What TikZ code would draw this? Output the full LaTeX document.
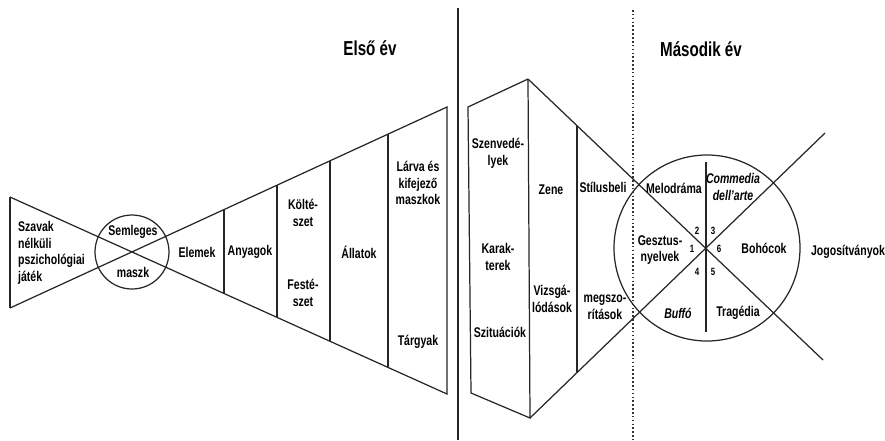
\documentclass[tikz,border=0pt]{standalone}
\usepackage{fontspec}
\setmainfont{Liberation Sans}[FakeStretch=0.75]
\usetikzlibrary{positioning}

\begin{document}
\begin{tikzpicture}[
    x=0.02cm, y=-0.02cm,
    lbl/.style={font=\fontsize{8}{9.5}\selectfont\bfseries, align=center, inner sep=1pt},
    lbll/.style={lbl, align=left},
    ital/.style={lbl, font=\fontsize{8}{9.5}\selectfont\bfseries\itshape},
    num/.style={font=\fontsize{6}{7}\selectfont\bfseries, inner sep=0.5pt},
    yeartitle/.style={font=\fontsize{11.5}{13}\selectfont\bfseries},
    outline/.style={draw, line width=0.7pt, black!85},
    sepline/.style={draw, line width=0.9pt, black!85},
    dotline/.style={draw, line width=0.9pt, black!80, dash pattern=on 0.9pt off 1.3pt}
  ]
    \useasboundingbox (0,0) rectangle (885,440);

    % first year
    \coordinate (ltop) at (10,197);
    \coordinate (lbot) at (10,308);
    \coordinate (apex) at (132,252);
    \coordinate (ctop) at (447,107);
    \coordinate (cbot) at (447,394);
    \path[outline] (ltop) -- (lbot);
    \path[outline] (ltop) -- (cbot) -- (ctop) -- (lbot);
    \path[outline] (apex) circle[radius=37];
    \foreach \x/\ya/\yb in {224/209.6/293.5, 277/185.2/317.4, 330/160.8/341.3, 388/134.1/367.4}
      \path[outline] (\x,\ya) -- (\x,\yb);

    \node[lbll, anchor=west] (szavak) at (16,253) {Szavak\\nélküli\\pszichológiai\\játék};
    \node[lbl] (semleges) at (133,232) {Semleges};
    \node[lbl] (maszk) at (133,272) {maszk};
    \node[lbl] (elemek) at (197,252) {Elemek};
    \node[lbl] (anyagok) at (250,252) {Anyagok};
    \node[lbl] (kolteszet) at (303,213) {Költé-\\szet};
    \node[lbl] (festeszet) at (303,293) {Festé-\\szet};
    \node[lbl] (allatok) at (359,252) {Állatok};
    \node[lbl] (larva) at (418,183) {Lárva és\\kifejező\\maszkok};
    \node[lbl] (targyak) at (418,342) {Tárgyak};
    \node[yeartitle] (elso) at (370,48) {Első év};

    \path[sepline] (458,8) -- (458,440);

    % second year
    \coordinate (p1) at (468,107);
    \coordinate (p2) at (528,79);
    \coordinate (p3) at (530,418);
    \coordinate (p4) at (471,393);
    \coordinate (e1) at (823,360);
    \coordinate (e2) at (825,133);
    \coordinate (mid) at (706,248);
    \path[outline] (p2) -- (p1) -- (p4) -- (p3) -- (p2);
    \path[outline] (p2) -- (e1);
    \path[outline] (p3) -- (e2);
    \path[outline] (577,126) -- (577,372);
    \path[outline] (707,248) circle[radius=93];
    \path[outline] (706,162) -- (706,332);
    \path[dotline] (633,10) -- (633,440);

    \node[lbl] (szenv) at (498,153) {Szenvedé-\\lyek};
    \node[lbl] (karak) at (498,257) {Karak-\\terek};
    \node[lbl] (szitu) at (500,332) {Szituációk};
    \node[lbl] (zene) at (551,190) {Zene};
    \node[lbl] (vizsga) at (552,299) {Vizsgá-\\lódások};
    \node[lbl] (stilus) at (603,187) {Stílusbeli};
    \node[lbl] (megszo) at (605,307) {megszo-\\rítások};
    \node[lbl] (melodrama) at (674,188) {Melodráma};
    \node[ital] (commedia) at (733,187) {Commedia\\dell'arte};
    \node[lbl] (gesztus) at (660,250) {Gesztus-\\nyelvek};
    \node[lbl] (bohocok) at (764,248) {Bohócok};
    \node[ital] (buffo) at (678,313) {Buffó};
    \node[lbl] (tragedia) at (738,313) {Tragédia};
    \node[lbl] (jogos) at (848,252) {Jogosítványok};
    \node[yeartitle] (masodik) at (701,49) {Második év};

    \node[num] (n1) at (692,249) {1};
    \node[num] (n2) at (697,231) {2};
    \node[num] (n3) at (713,231) {3};
    \node[num] (n4) at (697,272) {4};
    \node[num] (n5) at (713,272) {5};
    \node[num] (n6) at (719,249) {6};
\end{tikzpicture}
\end{document}
